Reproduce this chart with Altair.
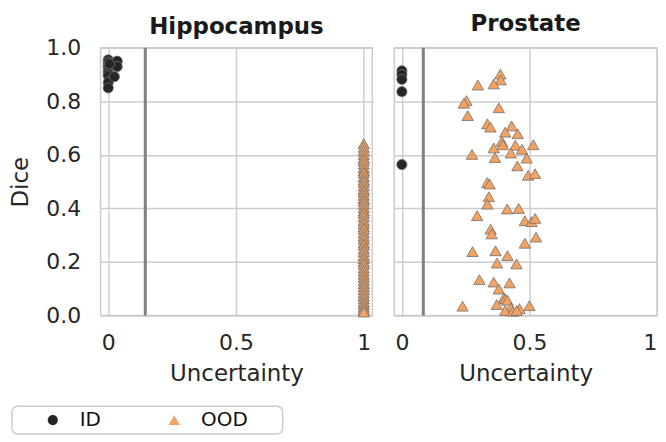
import altair as alt
import pandas as pd

# ---------------- data ----------------
hip_id_x = [0.0, 0.0, 0.0, 0.0, 0.0, 0.0, 0.0, 0.0, 0.0, 0.035, 0.035, 0.024, 0.005]
hip_id_y = [0.955, 0.946, 0.935, 0.928, 0.914, 0.905, 0.896, 0.871, 0.850, 0.950, 0.930, 0.892, 0.940]

hip_ood_y = [0.642, 0.628, 0.615, 0.601, 0.588, 0.579, 0.566, 0.552, 0.541, 0.533, 0.519,
             0.507, 0.498, 0.484, 0.471, 0.462, 0.449, 0.437, 0.428, 0.416, 0.403, 0.391,
             0.382, 0.369, 0.355, 0.344, 0.331, 0.322, 0.308, 0.296, 0.285, 0.271, 0.263,
             0.249, 0.238, 0.224, 0.213, 0.201, 0.192, 0.178, 0.166, 0.154, 0.143, 0.131,
             0.119, 0.108, 0.097, 0.085, 0.074, 0.063, 0.051, 0.042, 0.031, 0.022, 0.013]
hip_ood_x = [1.0] * len(hip_ood_y)

pro_id_x = [0.0, 0.0, 0.0, 0.0, 0.0]
pro_id_y = [0.914, 0.900, 0.882, 0.836, 0.564]

pro_ood_x = [0.386, 0.387, 0.360, 0.298, 0.253, 0.243, 0.380, 0.258, 0.335, 0.347, 0.430,
             0.405, 0.454, 0.392, 0.396, 0.445, 0.515, 0.360, 0.471, 0.275, 0.427, 0.365,
             0.489, 0.453, 0.495, 0.522, 0.335, 0.344, 0.341, 0.335, 0.295, 0.413, 0.458,
             0.482, 0.508, 0.522, 0.348, 0.352, 0.526, 0.482, 0.277, 0.367, 0.414, 0.373,
             0.449, 0.304, 0.360, 0.422, 0.380, 0.400, 0.406, 0.414, 0.372, 0.238, 0.427,
             0.461, 0.500, 0.405, 0.435, 0.450]
pro_ood_y = [0.902, 0.880, 0.865, 0.861, 0.803, 0.793, 0.776, 0.747, 0.716, 0.704, 0.708,
             0.685, 0.679, 0.651, 0.638, 0.636, 0.638, 0.626, 0.621, 0.602, 0.607, 0.590,
             0.588, 0.559, 0.524, 0.530, 0.497, 0.491, 0.444, 0.416, 0.373, 0.398, 0.400,
             0.354, 0.351, 0.363, 0.323, 0.305, 0.293, 0.270, 0.239, 0.242, 0.224, 0.196,
             0.193, 0.134, 0.125, 0.122, 0.099, 0.066, 0.062, 0.057, 0.041, 0.035, 0.029,
             0.026, 0.037, 0.019, 0.016, 0.019]

thresholds = {"Hippocampus": 0.145, "Prostate": 0.084}
groups = ["ID", "OOD"]
x_ticks = [0, 0.5, 1]
y_ticks = [0.0, 0.2, 0.4, 0.6, 0.8, 1.0]


def frame(xs, ys, group):
    return pd.DataFrame({"x": xs, "y": ys, "group": group})


data = {
    "Hippocampus": pd.concat([frame(hip_id_x, hip_id_y, "ID"), frame(hip_ood_x, hip_ood_y, "OOD")]),
    "Prostate": pd.concat([frame(pro_id_x, pro_id_y, "ID"), frame(pro_ood_x, pro_ood_y, "OOD")]),
}

FONT = "DejaVu Sans"
TXT = "#262626"
H = 269


def panel(name, first):
    df = data[name]
    if first:
        width = 273
        title_offset = -2
        xsc = alt.Scale(domain=[-0.03, 1.0335], nice=False, zero=False)
        xaxis = alt.Axis(values=x_ticks, title="Uncertainty",
                         labelExpr="datum.value == 0 ? '0' : datum.value == 1 ? '1' : '0.5'")
        yaxis = alt.Axis(values=y_ticks, format=".1f", title="Dice")
    else:
        width = 264
        title_offset = 10
        xsc = alt.Scale(domain=[-0.03, 1.0], nice=False, zero=False)
        xaxis = alt.Axis(values=x_ticks, title="Uncertainty",
                         labelExpr="datum.value == 0 ? '0' : datum.value == 1 ? '1' : '0.5'",
                         labelAlign={"condition": {"test": "datum.value == 1", "value": "right"},
                                     "value": "center"})
        yaxis = alt.Axis(values=y_ticks, labels=False, title=None)
    ysc = alt.Scale(domain=[0, 1], nice=False)
    rule = alt.Chart(pd.DataFrame({"t": [thresholds[name]]})).mark_rule(
        color="#808080", strokeWidth=3
    ).encode(x=alt.X("t:Q", scale=xsc, axis=xaxis))
    leg = alt.Legend(title=" ", titleOrient="right", titlePadding=31, orient="none",
                     legendX=-89, legendY=360, direction="horizontal")
    pts = alt.Chart(df).mark_point(filled=True, stroke="#6f6f6f", strokeWidth=0.8, opacity=1).encode(
        x=alt.X("x:Q", scale=xsc, axis=xaxis),
        y=alt.Y("y:Q", scale=ysc, axis=yaxis),
        color=alt.Color("group:N", scale=alt.Scale(domain=groups, range=["#262626", "#f4a261"]), legend=leg),
        shape=alt.Shape("group:N", scale=alt.Scale(domain=groups, range=["circle", "triangle-up"]), legend=leg),
        size=alt.Size("group:N", scale=alt.Scale(domain=groups, range=[105, 130]), legend=None),
    )
    return alt.layer(rule, pts).properties(
        width=width, height=H,
        title=alt.TitleParams(name, fontSize=23, fontWeight="bold", font=FONT,
                              color="#1a1a1a", offset=title_offset),
    )


chart = alt.hconcat(panel("Hippocampus", True), panel("Prostate", False), spacing=20).properties(
    padding={"left": 1, "top": 3, "right": 0, "bottom": 0}
).configure_view(
    stroke="#cccccc", strokeWidth=1.5
).configure_axis(
    grid=True, gridColor="#cccccc", gridWidth=1.4, domain=False, ticks=False,
    labelFont=FONT, labelFontSize=22, labelColor=TXT, titleFont=FONT, titleFontSize=23,
    titleColor=TXT, titleFontWeight="normal",
).configure_axisX(
    labelPadding=17, titlePadding=9,
).configure_axisY(
    labelPadding=20, titlePadding=13,
).configure_legend(
    labelFont=FONT, labelFontSize=20, labelColor="#111111", symbolSize=160, symbolStrokeWidth=0,
    strokeColor="#cccccc", strokeWidth=1.5, fillColor="white", cornerRadius=6, padding=4,
    columnPadding=36, labelOffset=17, symbolOffset=27, titleFontSize=20,
).configure_title(anchor="middle")

chart.save("out.html", embed_options={"renderer": "svg", "actions": False})
